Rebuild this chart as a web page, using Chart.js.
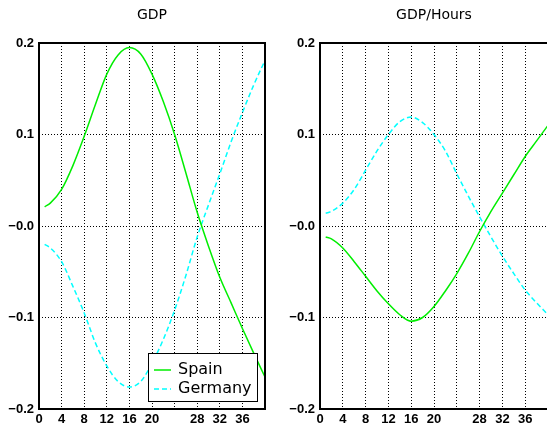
<!DOCTYPE html>
<html lang="en">
<head>
<meta charset="UTF-8">
<title>GDP and GDP/Hours</title>
<script src="https://cdn.jsdelivr.net/npm/chart.js"></script>
<style>
  body { margin: 0; background: #fff; overflow: hidden; width: 547px; height: 425px; position: relative; }
  canvas { position: absolute; top: 0; }
  #gdpChart { left: 0; }
  #hoursChart { left: 281px; }
</style>
</head>
<body>
<canvas id="gdpChart" width="268" height="425"></canvas>
<canvas id="hoursChart" width="270" height="425"></canvas>
<script>
  // horizon (quarters) and the values
  const horizon = [1, 2, 4, 6, 8, 10, 12, 14, 16, 18, 20, 22, 24, 26, 28, 30, 32, 34, 36, 38, 40];

  const spainGdp = [0.021, 0.025, 0.040, 0.066, 0.098, 0.133, 0.166, 0.187, 0.195, 0.188, 0.166,
    0.136, 0.100, 0.058, 0.015, -0.022, -0.056, -0.084, -0.112, -0.139, -0.165];
  const germanyGdp = [-0.020, -0.024, -0.039, -0.066, -0.095, -0.128, -0.153, -0.170, -0.176, -0.170, -0.150,
    -0.124, -0.092, -0.054, -0.012, 0.023, 0.057, 0.092, 0.124, 0.154, 0.181];

  const spainHours = [-0.012, -0.014, -0.024, -0.039, -0.055, -0.071, -0.085, -0.097, -0.104, -0.100, -0.088,
    -0.071, -0.052, -0.030, -0.006, 0.016, 0.036, 0.056, 0.076, 0.093, 0.110];
  const germanyHours = [0.014, 0.016, 0.025, 0.040, 0.061, 0.082, 0.100, 0.114, 0.119, 0.113, 0.100,
    0.082, 0.057, 0.033, 0.010, -0.012, -0.033, -0.052, -0.070, -0.084, -0.097];

  const xTickLabels = [0, 4, 8, 12, 16, 20, 28, 32, 36];
  const yTicks = [-0.2, -0.1, 0, 0.1, 0.2];

  const tickFont = { family: 'Liberation Sans', size: 13, weight: 'bold' };

  function toPoints(values) {
    return values.map((v, i) => ({ x: horizon[i], y: v }));
  }

  function fmtY(v) {
    if (Math.abs(v) < 1e-9) return '\u22120.0';
    return v < 0 ? '\u2212' + Math.abs(v).toFixed(1) : v.toFixed(1);
  }

  // title, frame and legend box
  const panelDecor = {
    id: 'panelDecor',
    afterDatasetsDraw(chart, args, opts) {
      const ctx = chart.ctx;
      const a = chart.chartArea;
      ctx.save();
      ctx.strokeStyle = '#000';
      ctx.lineWidth = 2;
      ctx.setLineDash([]);
      ctx.strokeRect(a.left, a.top, a.right - a.left, a.bottom - a.top);

      ctx.fillStyle = '#000';
      ctx.font = '14px "DejaVu Sans"';
      ctx.textAlign = 'center';
      ctx.textBaseline = 'middle';
      ctx.fillText(opts.title, (a.left + a.right) / 2, 15);

      if (opts.legend) {
        const w = 109, h = 48;
        const x0 = a.right - 8 - w, y0 = a.bottom - 8 - h;
        ctx.fillStyle = '#fff';
        ctx.fillRect(x0, y0, w, h);
        ctx.lineWidth = 1;
        ctx.strokeStyle = '#000';
        ctx.strokeRect(x0 + 0.5, y0 + 0.5, w, h);

        ctx.font = '16px "DejaVu Sans"';
        ctx.textAlign = 'left';
        chart.data.datasets.forEach((ds, i) => {
          const y = y0 + 17 + i * 19;
          ctx.strokeStyle = ds.borderColor;
          ctx.lineWidth = ds.borderWidth;
          ctx.setLineDash(ds.borderDash || []);
          ctx.beginPath();
          ctx.moveTo(x0 + 6, y);
          ctx.lineTo(x0 + 23, y);
          ctx.stroke();
          ctx.setLineDash([]);
          ctx.fillStyle = '#000';
          ctx.fillText(ds.label, x0 + 30, y);
        });
      }
      ctx.restore();
    }
  };

  function makePanel(id, title, spain, germany, legend, padRight) {
    const ctx = document.getElementById(id).getContext('2d');
    return new Chart(ctx, {
      type: 'line',
      data: {
        datasets: [
          {
            label: 'Spain',
            data: toPoints(spain),
            borderColor: '#00ee00',
            borderWidth: 1.5,
            pointRadius: 0,
            cubicInterpolationMode: 'monotone',
            fill: false
          },
          {
            label: 'Germany',
            data: toPoints(germany),
            borderColor: '#00ffff',
            borderWidth: 1.5,
            borderDash: [5, 3],
            pointRadius: 0,
            cubicInterpolationMode: 'monotone',
            fill: false
          }
        ]
      },
      options: {
        responsive: false,
        animation: false,
        layout: { padding: { top: 43, left: 0, right: padRight, bottom: 0 } },
        plugins: {
          legend: { display: false },
          tooltip: { enabled: false },
          panelDecor: { title: title, legend: legend }
        },
        scales: {
          x: {
            type: 'linear',
            min: 0,
            max: 40,
            afterBuildTicks(scale) {
              scale.ticks = [];
              for (let v = 0; v <= 40; v += 4) scale.ticks.push({ value: v });
            },
            afterFit(scale) { scale.height = 16; },
            grid: { color: '#000', lineWidth: 1, drawTicks: false },
            border: { display: false, dash: [1, 2] },
            ticks: {
              color: '#000',
              font: tickFont,
              padding: 3,
              autoSkip: false,
              maxRotation: 0,
              callback: v => xTickLabels.includes(v) ? String(v) : ''
            }
          },
          y: {
            min: -0.2,
            max: 0.2,
            afterBuildTicks(scale) {
              scale.ticks = yTicks.map(v => ({ value: v }));
            },
            afterFit(scale) { scale.width = 39; },
            grid: { color: '#000', lineWidth: 1, drawTicks: false },
            border: { display: false, dash: [1, 2] },
            ticks: {
              color: '#000',
              font: tickFont,
              padding: 5,
              callback: v => fmtY(v)
            }
          }
        }
      },
      plugins: [panelDecor]
    });
  }

  makePanel('gdpChart', 'GDP', spainGdp, germanyGdp, true, 2);
  makePanel('hoursChart', 'GDP/Hours', spainHours, germanyHours, false, 0);
</script>
</body>
</html>
